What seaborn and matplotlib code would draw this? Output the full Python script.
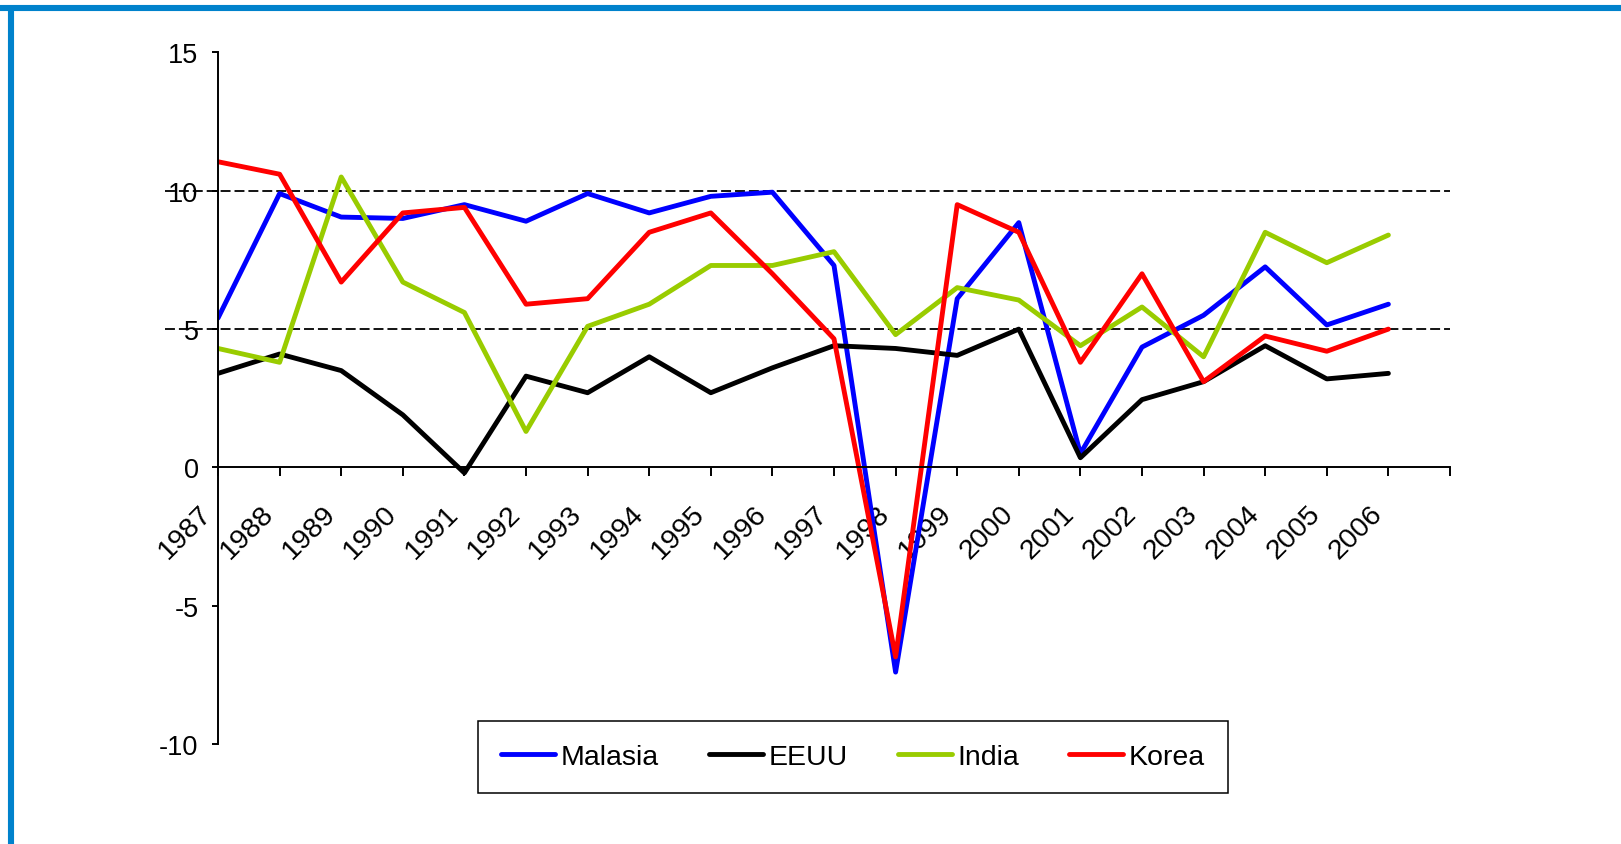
import pandas as pd
import seaborn as sns
from matplotlib import pyplot as plt
from matplotlib.lines import Line2D
from matplotlib.transforms import ScaledTranslation

# years on the category axis (one empty slot after 2006, like the original)
years = ['1987', '1988', '1989', '1990', '1991', '1992', '1993', '1994', '1995', '1996',
         '1997', '1998', '1999', '2000', '2001', '2002', '2003', '2004', '2005', '2006']

# growth values
malasia = [5.4, 9.9, 9.05, 9.0, 9.5, 8.9, 9.9, 9.2, 9.8, 9.95,
           7.3, -7.4, 6.1, 8.85, 0.5, 4.35, 5.5, 7.25, 5.15, 5.9]
eeuu = [3.4, 4.1, 3.5, 1.9, -0.2, 3.3, 2.7, 4.0, 2.7, 3.6,
        4.4, 4.3, 4.05, 5.0, 0.35, 2.45, 3.1, 4.4, 3.2, 3.4]
india = [4.3, 3.8, 10.5, 6.7, 5.6, 1.3, 5.1, 5.9, 7.3, 7.3,
         7.8, 4.8, 6.5, 6.05, 4.4, 5.8, 4.0, 8.5, 7.4, 8.4]
korea = [11.05, 10.6, 6.7, 9.2, 9.4, 5.9, 6.1, 8.5, 9.2, 7.0,
         4.65, -6.85, 9.5, 8.5, 3.8, 7.0, 3.1, 4.75, 4.2, 5.0]

series_names = ['Malasia', 'EEUU', 'India', 'Korea']
series_colors = ['#0000FF', '#000000', '#99CC00', '#FF0000']
ref_levels = [10, 5]

# long format dataframe for seaborn
frames = []
for name, vals in zip(series_names, [malasia, eeuu, india, korea]):
    frames.append(pd.DataFrame({'pos': range(len(years)), 'valor': vals, 'pais': name}))
data = pd.concat(frames, ignore_index=True)

sns.set_style('ticks')
plt.rcParams['font.family'] = ['Liberation Sans', 'DejaVu Sans']
plt.rcParams['axes.unicode_minus'] = False  # plain hyphen like the original
plt.rcParams['text.color'] = 'black'
plt.rcParams['xtick.color'] = 'black'
plt.rcParams['ytick.color'] = 'black'
plt.rcParams['axes.edgecolor'] = 'black'

fig = plt.figure(figsize=(16.21, 8.45), dpi=100)
ax = fig.add_axes([0.1345, 0.1183, 0.7600, 0.8184])

sns.lineplot(data=data, x='pos', y='valor', hue='pais', palette=series_colors,
             hue_order=series_names, linewidth=3.5, ax=ax, legend=True)

# dashed reference lines (they run over the y tick labels in the original)
for lvl in ref_levels:
    ax.axhline(lvl, xmin=-0.043, xmax=1.0, color='black', linestyle=(0, (5.5, 2.2)),
               linewidth=1.3, clip_on=False, zorder=1)

ax.set_xlim(0, len(years))
ax.set_ylim(-10, 15)
ax.set_yticks([-10, -5, 0, 5, 10, 15])
ax.set_xticks(range(len(years) + 1))
ax.set_xticklabels(years + [''])
ax.set_xlabel('')
ax.set_ylabel('')

# axis lines: x axis sits at zero
ax.spines['top'].set_visible(False)
ax.spines['right'].set_visible(False)
ax.spines['bottom'].set_position(('data', 0))
ax.spines['left'].set_linewidth(1.4)
ax.spines['bottom'].set_linewidth(1.4)
ax.tick_params(axis='y', direction='out', length=4, width=1.4, pad=10, labelsize=19.5)
ax.tick_params(axis='x', direction='out', length=6.5, width=1.4, pad=17, labelsize=20.5)

offset = ScaledTranslation(-0.19, 0, fig.dpi_scale_trans)
for lab in ax.get_xticklabels():
    lab.set_rotation(45)
    lab.set_ha('right')
    lab.set_va('top')
    lab.set_rotation_mode('anchor')
    lab.set_transform(lab.get_transform() + offset)

# legend box under the plot
handles, labels = ax.get_legend_handles_labels()
ax.legend(handles, labels, loc='center', bbox_to_anchor=(853 / 1621, 1 - 758 / 845),
          bbox_transform=fig.transFigure, ncol=4, frameon=True, fancybox=False,
          edgecolor='black', framealpha=1, fontsize=20.5, handlelength=1.9,
          handletextpad=0.2, columnspacing=1.75, borderpad=0.8, borderaxespad=0)
ax.get_legend().get_frame().set_linewidth(1.1)

# blue frame along the top and left edge
frame_col = '#0082CC'
fig.add_artist(Line2D([0, 1], [1 - 9 / 845, 1 - 9 / 845], color=frame_col, linewidth=4.4,
                      transform=fig.transFigure))
fig.add_artist(Line2D([11 / 1621, 11 / 1621], [0, 1 - 6 / 845], color=frame_col, linewidth=4.4,
                      transform=fig.transFigure, solid_capstyle='butt'))

fig.savefig('out.png', dpi=100)
